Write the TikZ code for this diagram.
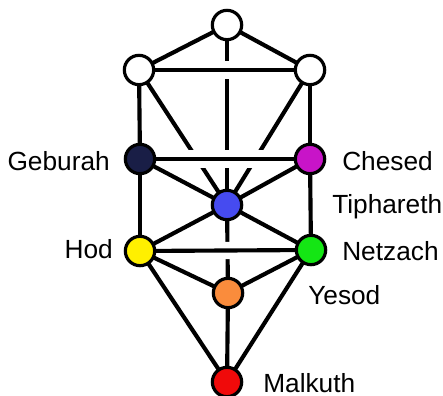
\documentclass[tikz,border=0pt]{standalone}
\usepackage{fontspec}
\setmainfont{Liberation Sans}
\usetikzlibrary{positioning, backgrounds}
\definecolor{SephGeburah}{RGB}{25,30,70}
\definecolor{SephChesed}{RGB}{200,20,200}
\definecolor{SephTiphareth}{RGB}{70,75,240}
\definecolor{SephHod}{RGB}{255,240,0}
\definecolor{SephNetzach}{RGB}{20,230,20}
\definecolor{SephYesod}{RGB}{250,140,60}
\definecolor{SephMalkuth}{RGB}{240,10,10}

\begin{document}
\begin{tikzpicture}[
    x=0.75pt,
    y=-0.75pt,
    font=\fontsize{19.7}{23}\selectfont,
    sephira/.style={circle, draw=black, line width=2.4pt, minimum size=22pt, inner sep=0pt},
    link/.style={draw=black, line width=3.1pt},
    bridge/.style={preaction={draw=white, line width=13pt, shorten <=21pt, shorten >=21pt}},
    seflabel/.style={inner sep=0pt}
]
\useasboundingbox (0,0) rectangle (443,396);

% Sephiroth
\node[sephira, fill=white] (kether) at (227,25) {};
\node[sephira, fill=white] (binah) at (139,70) {};
\node[sephira, fill=white] (chokmah) at (310,70) {};
\node[sephira, fill=SephGeburah] (geburah) at (140,159) {};
\node[sephira, fill=SephChesed] (chesed) at (310,159) {};
\node[sephira, fill=SephTiphareth] (tiphareth) at (227,205) {};
\node[sephira, fill=SephHod] (hod) at (140,251) {};
\node[sephira, fill=SephNetzach] (netzach) at (311,250) {};
\node[sephira, fill=SephYesod] (yesod) at (228,293) {};
\node[sephira, fill=SephMalkuth] (malkuth) at (227,382) {};

\begin{scope}[on background layer]
% Paths that pass under the bars
\foreach \a/\b in {kether/binah, kether/chokmah, kether/tiphareth,
    binah/geburah, chokmah/chesed, binah/tiphareth, chokmah/tiphareth,
    geburah/tiphareth, chesed/tiphareth, geburah/hod, chesed/netzach,
    tiphareth/hod, tiphareth/netzach, tiphareth/yesod,
    hod/yesod, netzach/yesod, hod/malkuth, netzach/malkuth, yesod/malkuth}{
  \draw[link] (\a.center) -- (\b.center);
}

% Horizontal bars
\foreach \a/\b in {binah/chokmah, geburah/chesed, hod/netzach}{
  \draw[link, bridge] (\a.center) -- (\b.center);
}
\end{scope}

% Names
\node[seflabel, anchor=base east] (lgeburah) at (110,170) {Geburah};
\node[seflabel, anchor=base east] (lhod) at (113,258) {Hod};
\node[seflabel, anchor=base west] (lchesed) at (342,170) {Chesed};
\node[seflabel, anchor=base west] (ltiphareth) at (332,213) {Tiphareth};
\node[seflabel, anchor=base west] (lnetzach) at (342,260) {Netzach};
\node[seflabel, anchor=base west] (lyesod) at (308,304) {Yesod};
\node[seflabel, anchor=base west] (lmalkuth) at (263,392) {Malkuth};

\end{tikzpicture}
\end{document}
